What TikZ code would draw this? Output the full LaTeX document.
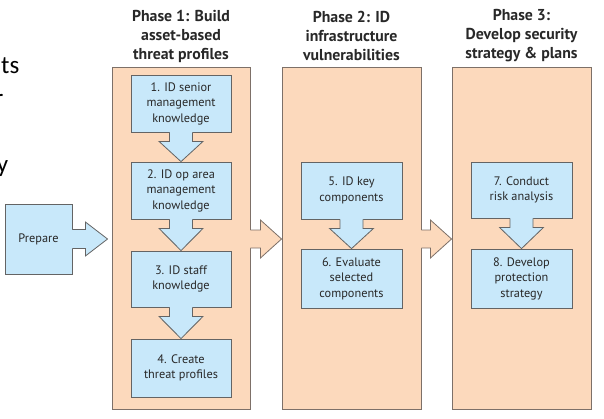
\documentclass[tikz,border=0pt]{standalone}
\usepackage{fontspec}
\setmainfont{PT Sans}
\newfontfamily\slidefont{Carlito}
\usetikzlibrary{calc}
\definecolor{peach}{RGB}{252,217,188}
\definecolor{skyfill}{RGB}{200,232,250}
\definecolor{boxline}{RGB}{100,100,100}
\definecolor{phaseline}{RGB}{125,112,104}
\definecolor{txt}{RGB}{40,40,40}
\tikzset{
  phasebox/.style={draw=phaseline, fill=peach, line width=0.9pt, minimum width=139pt, minimum height=342pt, inner sep=0pt},
  stepbox/.style={draw=boxline, fill=skyfill, line width=0.8pt, inner sep=0pt, align=center,
    font=\fontsize{12.3}{15.5}\selectfont, text=txt},
  header/.style={align=center, font=\fontsize{15.8}{19}\selectfont\bfseries, text=txt},
  slidetext/.style={font=\slidefont\fontsize{25}{33}\selectfont, text=black, anchor=base east, inner sep=0pt},
}
% down block arrow joined to box #1, tip on box #2
\newcommand\myDown[2]{%
  \fill[skyfill] ($(#1.south)+(-11.5,-1)$) -- ($(#1.south)+(-11.5,9)$) -- ($(#1.south)+(-22,9)$)
     -- (#2.north) -- ($(#1.south)+(22,9)$) -- ($(#1.south)+(11.5,9)$) -- ($(#1.south)+(11.5,-1)$) -- cycle;
  \draw[boxline, line width=0.8pt, line join=miter] ($(#1.south)+(-11.5,0)$) -- ($(#1.south)+(-11.5,9)$) -- ($(#1.south)+(-22,9)$)
     -- (#2.north) -- ($(#1.south)+(22,9)$) -- ($(#1.south)+(11.5,9)$) -- ($(#1.south)+(11.5,0)$);
}
% right block arrow: #1 from, #2 to, #3 fill, #4 line, #5 y offset at start, #6 stem half, #7 wing half, #8 stem length, #9 gap
\newcommand\myRight[9]{%
  \coordinate (rs) at ($(#1.east)+(0,#5)$);
  \coordinate (rt) at ($(#2.west)+(-#9,1)$);
  \fill[#3] ($(rs)+(-1,-#6)$) -- ($(rs)+(#8,-#6)$) -- ($(rs)+(#8,-#7)$) -- (rt)
     -- ($(rs)+(#8,#7)$) -- ($(rs)+(#8,#6)$) -- ($(rs)+(-1,#6)$) -- cycle;
  \draw[#4, line width=0.8pt] ($(rs)+(0,-#6)$) -- ($(rs)+(#8,-#6)$) -- ($(rs)+(#8,-#7)$) -- (rt)
     -- ($(rs)+(#8,#7)$) -- ($(rs)+(#8,#6)$) -- ($(rs)+(0,#6)$);
}
\begin{document}
\begin{tikzpicture}[x=1pt, y=-1pt]
\useasboundingbox (0,0) rectangle (604,418);
\clip (0,0) rectangle (604,418);
% cut-off slide text at the left edge
\node[slidetext] (s1) at (19.5,73) {ts};
\node[slidetext] (s2) at (3.5,106) {r};
\node[slidetext] (s3) at (8.5,172) {y};
% phase frames
\node[phasebox, minimum width=138pt] (p1) at (181,238) {};
\node[phasebox] (p2) at (351.5,238) {};
\node[phasebox] (p3) at (521.5,238) {};
% headers
\node[header] (h1) at (181,36) {Phase 1: Build\\asset-based\\threat profiles};
\node[header] (h2) at (351.5,35.5) {Phase 2: ID\\infrastructure\\vulnerabilities};
\node[header] (h3) at (521.5,36) {Phase 3:\\Develop security\\strategy \& plans};
% prepare
\node[stepbox, minimum width=67pt, minimum height=70pt] (prep) at (38.5,239) {Prepare};
% step boxes
\node[stepbox, minimum width=100pt, minimum height=57pt] (b1) at (181,103.5) {1. ID senior\\management\\knowledge};
\node[stepbox, minimum width=100pt, minimum height=57pt] (b2) at (181,190.5) {2. ID op area\\management\\knowledge};
\node[stepbox, minimum width=100pt, minimum height=56pt] (b3) at (181,279) {3. ID staff\\knowledge};
\node[stepbox, minimum width=100pt, minimum height=58pt] (b4) at (181,368) {4. Create\\threat profiles};
\node[stepbox, minimum width=101pt, minimum height=57pt] (b5) at (351.5,190.5) {5. ID key\\components};
\node[stepbox, minimum width=101pt, minimum height=59pt] (b6) at (351.5,278.5) {6. Evaluate\\selected\\components};
\node[stepbox, minimum width=101pt, minimum height=56pt] (b7) at (521.5,190) {7. Conduct\\risk analysis};
\node[stepbox, minimum width=101pt, minimum height=59pt] (b8) at (521.5,278.5) {8. Develop\\protection\\strategy};
% down arrows
\myDown{b1}{b2}
\myDown{b2}{b3}
\myDown{b3}{b4}
\myDown{b5}{b6}
\myDown{b7}{b8}
% right arrows
\myRight{prep}{p1}{skyfill}{boxline}{0}{9.5}{17}{13}{4}
\myRight{p1}{p2}{peach}{phaseline}{1}{9}{19}{10}{0}
\myRight{p2}{p3}{peach}{phaseline}{1}{9}{19}{9}{0}
\end{tikzpicture}
\end{document}
